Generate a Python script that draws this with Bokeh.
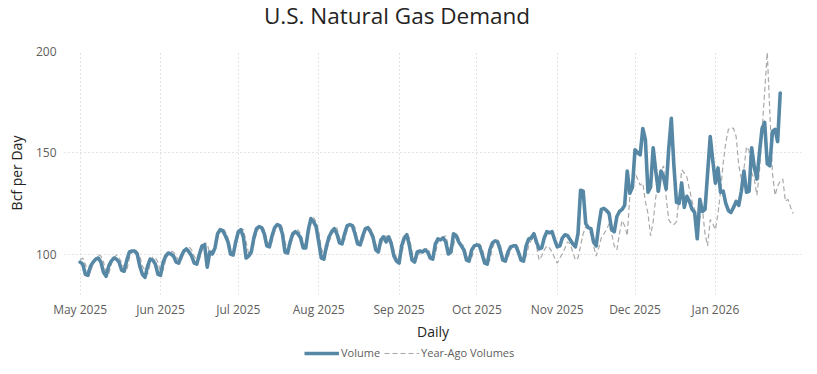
import pandas as pd
from bokeh.plotting import figure
from bokeh.layouts import column
from bokeh.models import Range1d, FixedTicker, DatetimeTickFormatter, Legend, LegendItem, Label
from bokeh.embed import file_html
from bokeh.resources import INLINE

# ---------------- data ----------------
title_text = "U.S. Natural Gas Demand"
start_date = "2025-05-01"

volume = [
    96, 95, 90, 89.5, 94, 96, 97.5, 98, 96, 91, 89, 94, 96.5, 98, 97.5, 96, 92, 91.5,
    97, 101, 101.5, 101.5, 100, 94, 90, 88.5, 94, 97.5, 97, 95, 90, 89.5,
    96, 99, 100.5, 100, 99, 96, 95.5, 99, 101.5, 102.5, 101, 99, 95.5, 95,
    100, 104, 104.5, 93.5, 101, 100, 103, 110, 112, 111.5, 109, 106, 100, 99.5,
    106, 111, 112, 108, 98, 99, 101, 108, 112.5, 113.5, 113, 110, 104, 103.5,
    109, 113, 114.5, 114, 110, 101, 100.5, 106, 110, 111, 110, 108, 103, 103,
    112, 117.5, 116, 113.5, 106, 98, 97.5, 104, 108.5, 111, 112.5, 110, 105.5, 105,
    110, 114, 114.5, 114, 110, 105, 104.5, 109, 112.5, 113, 111, 108, 102, 101,
    107, 108.5, 106, 108.5, 105, 99, 96.5, 95.5, 104, 108, 109.5, 104, 97, 96,
    101, 101.5, 101, 102, 101, 98, 97.5, 105, 107.5, 107, 108, 106, 100, 101,
    110, 109, 106, 104, 102, 97, 96.5, 102, 104, 104.5, 104, 100, 95.5, 95,
    102, 105.5, 106.5, 106, 102, 97, 96.5, 101, 103.5, 104, 104, 101, 97, 96.5,
    104, 107.5, 108, 110, 106, 102.5, 103, 108, 111, 110.5, 111, 107, 103.5, 104,
    108, 109.5, 109, 107, 105, 103.5, 110, 131.5, 131, 115, 113, 112.5, 106, 104,
    114, 122, 122.5, 121.5, 120, 112, 111, 118.5, 121, 122, 124, 141, 130, 133,
    151.5, 150, 149, 162, 156.5, 130.5, 133, 152.5, 141, 131, 141, 138, 132, 152,
    167, 143.5, 125.5, 125, 135, 123, 128.5, 126, 122, 120.5, 107.5, 127, 121, 122,
    140, 158, 146, 135, 142.5, 130.5, 131, 125, 121.5, 120.5, 123, 126, 124, 131,
    141, 130.5, 131, 152.5, 143, 137, 150, 162, 165, 144.5, 143.5, 160.5, 161.5, 155.5,
    179.5,
]

year_ago = [
    97, 98, 95, 91, 91, 95.5, 98, 99.5, 99, 96, 91, 90, 95, 98, 99.5, 98, 96, 93,
    92, 98, 101, 102.5, 101, 99, 94, 92, 90, 95, 98.5, 98, 96, 91,
    92, 97, 100.5, 101.5, 101, 99, 96.5, 97, 100, 103, 103.5, 102, 99, 97,
    97.5, 102, 105.5, 105, 100, 102, 104, 108, 112.5, 113, 111, 108, 103, 101,
    104, 110, 112.5, 112, 106, 100, 100, 105, 110.5, 113, 114, 112, 107, 104,
    106, 111, 114, 115, 113, 106, 102, 104, 108, 111, 112, 110, 106, 104,
    108, 115, 118, 116, 111, 103, 99, 101, 106, 109.5, 112, 113, 108, 106,
    107, 112, 115, 115, 113, 107, 105.5, 106, 111, 113.5, 112.5, 110, 105, 102,
    104, 108, 109, 107, 107, 102, 98, 97, 100, 106, 109, 108, 101, 97.5,
    98, 101, 102.5, 102, 103, 100, 98, 100, 106, 108, 108.5, 109, 104, 100,
    104, 110.5, 108, 105, 104, 100, 97, 98, 103, 105, 105, 103, 98, 95,
    97, 103, 106, 107, 105, 99, 96, 98, 102, 104, 105, 103, 98, 96,
    99, 104, 107, 108, 104, 97, 99, 102, 104, 103, 101, 98, 95.5, 98,
    100, 103, 106, 105, 101, 97, 98, 104, 110, 113.5, 112, 110, 104, 99,
    103, 108, 110, 112, 115, 110, 104, 102, 110, 116.5, 114, 109, 128.5, 136,
    140, 137, 134, 135, 126, 120, 109, 116, 128, 136, 141, 143.5, 128, 117,
    115, 114.5, 116, 128, 141.5, 140, 138, 132, 126, 122, 114, 118, 122, 110,
    104, 117, 115, 112, 120, 131, 145, 155, 161.5, 162.5, 162, 158, 144, 137,
    142, 153, 151, 140, 137, 129, 141, 161, 180, 199.5, 170, 140, 129, 133.5,
    136, 137, 126, 127, 123, 120,
]

month_ticks = ["2025-05-01", "2025-06-01", "2025-07-01", "2025-08-01", "2025-09-01",
               "2025-10-01", "2025-11-01", "2025-12-01", "2026-01-01"]
y_ticks = [100, 150, 200]

dates_v = pd.date_range(start_date, periods=len(volume), freq="D")
dates_y = pd.date_range(start_date, periods=len(year_ago), freq="D")

FONT = "Open Sans"
VOL_COLOR = "#5688A6"
YA_COLOR = "#a9a9a9"
W = 803


def bare(fig):
    fig.min_border_left = 0
    fig.min_border_right = 0
    fig.min_border_top = 0
    fig.min_border_bottom = 0
    fig.outline_line_color = None
    fig.grid.visible = False


# ---- title strip ----
t = figure(width=W, height=36, output_backend="svg", toolbar_location=None,
           x_axis_location=None, y_axis_location=None,
           x_range=Range1d(0, 1), y_range=Range1d(0, 1))
bare(t)
t.add_layout(Label(x=332.5, y=21, x_units="screen", y_units="screen", text=title_text,
                   text_font=FONT, text_font_size="22.5px", text_color="#252423",
                   text_align="center", text_baseline="middle"))

# ---- main chart ----
p = figure(width=W, height=310, x_axis_type="datetime",
           output_backend="svg", toolbar_location=None,
           x_range=Range1d(pd.Timestamp("2025-04-24 23:00"), pd.Timestamp("2026-02-03 05:00")),
           y_range=Range1d(80, 200))
p.min_border_left = 64
p.min_border_right = 2
p.min_border_top = 15
p.min_border_bottom = 52
p.outline_line_color = None

r_ya = p.line(dates_y, year_ago, line_color=YA_COLOR, line_width=1.2, line_dash="5 3")
r_v = p.line(dates_v, volume, line_color=VOL_COLOR, line_width=3.6, line_join="round", line_cap="round")

xa = p.xaxis[0]
xa.ticker = FixedTicker(ticks=[pd.Timestamp(m).value // 10**6 for m in month_ticks])
fmt = "%b %Y"
xa.formatter = DatetimeTickFormatter(milliseconds=fmt, seconds=fmt, minsec=fmt, minutes=fmt,
                                     hourmin=fmt, hours=fmt, days=fmt, months=fmt, years=fmt)
xa.axis_label = "Daily"
ya = p.yaxis[0]
ya.ticker = FixedTicker(ticks=y_ticks)
ya.axis_label = "Bcf per Day"

for ax in (xa, ya):
    ax.axis_line_color = None
    ax.major_tick_line_color = None
    ax.minor_tick_line_color = None
    ax.major_tick_out = 0
    ax.major_tick_in = 0
    ax.major_label_text_font = FONT
    ax.major_label_text_font_size = "12px"
    ax.major_label_text_color = "#605E5C"
    ax.axis_label_text_font = FONT
    ax.axis_label_text_font_size = "14px"
    ax.axis_label_text_font_style = "normal"
    ax.axis_label_text_color = "#252423"

xa.major_label_standoff = 6
xa.axis_label_standoff = 1
ya.major_label_standoff = 8
ya.axis_label_standoff = 7

for g in (p.xgrid[0], p.ygrid[0]):
    g.grid_line_color = "#c8c8c8"
    g.grid_line_dash = "1 3"
    g.grid_line_width = 1
p.xgrid[0].ticker = xa.ticker
p.ygrid[0].ticker = ya.ticker

# ---- legend strip (same series, drawn outside its visible range) ----
q = figure(width=W, height=24, output_backend="svg", toolbar_location=None,
           x_axis_type="datetime", x_axis_location=None, y_axis_location=None,
           x_range=Range1d(pd.Timestamp("2025-04-24 23:00"), pd.Timestamp("2026-02-03 05:00")),
           y_range=Range1d(0, 1))
bare(q)
lv = q.line(dates_v, volume, line_color=VOL_COLOR, line_width=3.6)
ly = q.line(dates_y, year_ago, line_color=YA_COLOR, line_width=1.2, line_dash="5 3")

legend = Legend(items=[LegendItem(label="Volume", renderers=[lv]),
                       LegendItem(label="Year-Ago Volumes", renderers=[ly])],
                orientation="horizontal", location=(240, 10),
                padding=0, margin=0, spacing=4, glyph_width=35, glyph_height=14,
                label_standoff=2, label_text_font=FONT, label_text_font_size="11px",
                label_text_color="#605E5C", label_height=14,
                border_line_color=None, background_fill_alpha=0)
q.add_layout(legend)

layout = column(t, p, q, spacing=0)
open("out.html", "w").write(file_html(layout, INLINE))
